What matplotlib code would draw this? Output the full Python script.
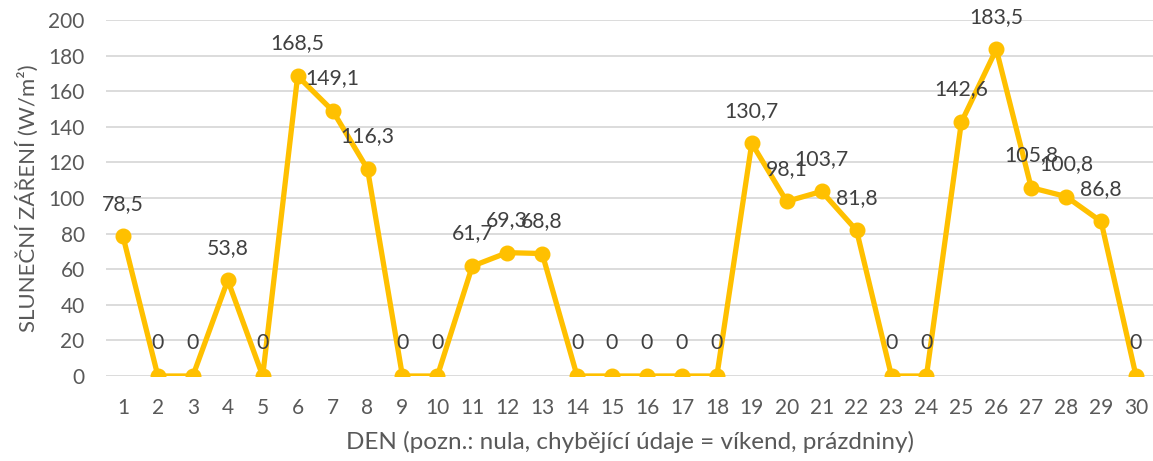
import matplotlib
matplotlib.use("Agg")
import matplotlib.pyplot as plt

days = list(range(1, 31))
values = [78.5, 0, 0, 53.8, 0, 168.5, 149.1, 116.3, 0, 0,
          61.7, 69.3, 68.8, 0, 0, 0, 0, 0, 130.7, 98.1,
          103.7, 81.8, 0, 0, 142.6, 183.5, 105.8, 100.8, 86.8, 0]
yticks = list(range(0, 201, 20))

plt.rcParams['font.family'] = ['Lato', 'DejaVu Sans']
gray = '#595959'
color = '#FFC000'

fig = plt.figure(figsize=(11.53, 4.61), dpi=100)
ax = fig.add_axes([105.5/1153, 1 - 376/461, (1153.5-105.5)/1153, (376-20)/461])

ax.plot(days, values, color=color, lw=3.8, marker='o', ms=10.5, zorder=3,
        solid_joinstyle='round')
for d, v in zip(days, values):
    txt = ('%g' % v).replace('.', ',')
    ax.annotate(txt, (d, v), xytext=(0, 23.5), textcoords='offset points',
                ha='center', va='center', fontsize=15.3, color='#404040', zorder=4)

ax.set_xlim(0.5, 30.5)
ax.set_ylim(0, 200)
ax.set_yticks(yticks)
ax.set_xticks(days)
ax.grid(axis='y', color='#D9D9D9', lw=1.3)
ax.set_axisbelow(True)
for s in ax.spines.values():
    s.set_visible(False)
ax.tick_params(length=0, labelsize=15, labelcolor=gray)
ax.tick_params(axis='x', pad=16)
ax.tick_params(axis='y', pad=15)
ax.set_xlabel('DEN (pozn.: nula, chybějící údaje = víkend, prázdniny)',
              fontsize=17.5, color=gray, labelpad=9)
ax.set_ylabel('SLUNEČNÍ ZÁŘENÍ (W/m²)', fontsize=16, color=gray, labelpad=7)

fig.savefig('out.png', dpi=100)
